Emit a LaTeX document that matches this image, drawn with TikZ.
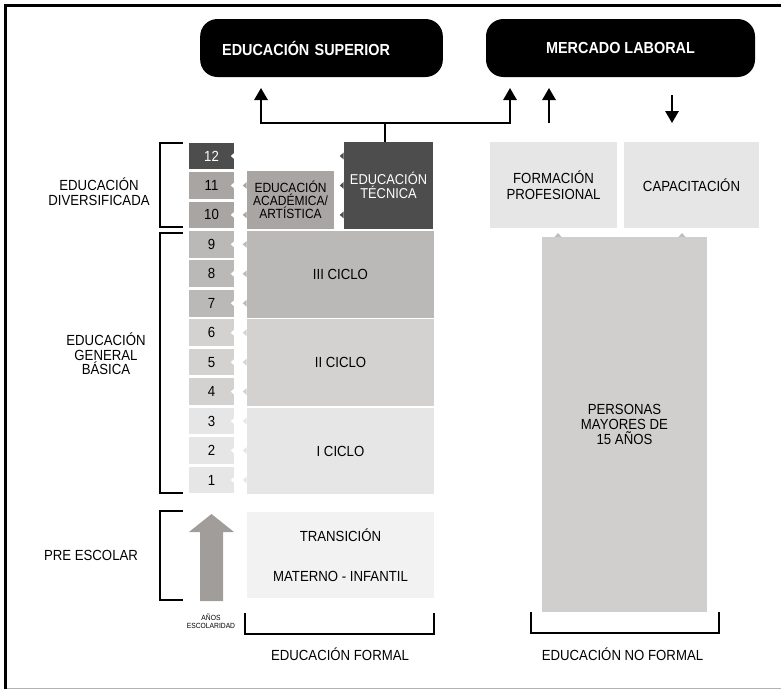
\documentclass[tikz,border=0pt]{standalone}
\usepackage{fontspec}
\setmainfont{Liberation Sans}[FakeStretch=0.9]
\usetikzlibrary{arrows.meta}
\definecolor{gdark}{HTML}{4D4D4D}
\definecolor{gwarm}{HTML}{A8A5A2}
\definecolor{gmid}{HTML}{BAB9B7}
\definecolor{glight}{HTML}{D3D2D0}
\definecolor{gpale}{HTML}{E6E6E6}
\definecolor{gfaint}{HTML}{F2F2F2}
\definecolor{gnf}{HTML}{D0CFCD}
\definecolor{garrow}{HTML}{A09D9A}
\tikzstyle{topbox} = [rectangle, rounded corners=13pt, fill=black, text=white, minimum
height=43.5pt, inner sep=0pt, font=\bfseries\fontsize{12}{14}\selectfont]
\tikzstyle{grade} = [rectangle, minimum width=33.75pt, minimum height=20pt, inner sep=0pt]
\tikzstyle{block} = [rectangle, inner sep=0pt, align=center]
\tikzstyle{lbl} = [align=center, font=\fontsize{11}{11}\selectfont]
\tikzstyle{arrow} = [line width=1.5pt,-{Triangle[width=10pt,length=9pt]}]
\tikzstyle{bracket} = [line width=2.2pt]

\begin{document}
\begin{tikzpicture}[x=0.75pt, y=-0.75pt, font=\fontsize{11}{11}\selectfont]
  \useasboundingbox (0,0) rectangle (781,689);
  % frame
  \draw[line width=2.25pt] (5.5,689) -- (5.5,5.5) -- (781,5.5);
  \draw[black!30, line width=0.75pt] (7,688) -- (781,688);

  \node (sup) [topbox, text width=149pt, inner xsep=16.5pt, align=left] at (321.5,48) {EDUCACIÓN SUPERIOR};
  \node (ml) [topbox, minimum width=201.75pt] at (620.5,48) {MERCADO LABORAL};

  % grades
  \foreach \g/\c/\t in {12/gdark/white, 11/gwarm/black, 10/gwarm/black, 9/gmid/black,
    8/gmid/black, 7/gmid/black, 6/glight/black, 5/glight/black, 4/glight/black,
    3/gpale/black, 2/gpale/black, 1/gpale/black} {
    \node (g\g) [grade, fill=\c, text=\t] at (211.5,{156+(12-\g)*29.45}) {\g};
    \fill[white] (g\g.east) ++(0.5,-3.5) -- ++(-4,3.5) -- ++(4,3.5) -- cycle;
  }

  \node (acad) [block, fill=gwarm, minimum width=65.25pt, minimum height=43.5pt,
    font=\fontsize{10}{9.75}\selectfont] at (290.5,200) {EDUCACIÓN\\ACADÉMICA/\\ARTÍSTICA};
  \node (tec) [block, fill=gdark, text=white, minimum width=66.75pt, minimum height=65.25pt,
    font=\fontsize{10.7}{10.5}\selectfont] at (388.5,185.5) {EDUCACIÓN\\TÉCNICA};
  \node (c3) [block, fill=gmid, minimum width=140.25pt, minimum height=65.25pt] at (340.5,274.5) {III CICLO};
  \node (c2) [block, fill=glight, minimum width=140.25pt, minimum height=65.25pt] at (340.5,362.5) {II CICLO};
  \node (c1) [block, fill=gpale, minimum width=140.25pt, minimum height=64.5pt] at (340.5,451) {I CICLO};
  \node (pre) [block, fill=gfaint, minimum width=140.25pt, minimum height=64.5pt] at (340.5,555)
    {TRANSICIÓN\\[19pt]MATERNO - INFANTIL};

  \foreach \g/\b/\c in {12/tec/gdark, 11/tec/gdark, 10/tec/gdark, 11/acad/gwarm, 10/acad/gwarm,
    9/c3/gmid, 8/c3/gmid, 7/c3/gmid, 6/c2/glight, 5/c2/glight, 4/c2/glight,
    3/c1/gpale, 2/c1/gpale, 1/c1/gpale}
    \fill[\c] (\b.west |- g\g.east) ++(0,-3.5) -- ++(-4,3.5) -- ++(4,3.5) -- cycle;

  \node (fp) [block, fill=gpale, minimum width=95.25pt, minimum height=64.5pt,
    font=\fontsize{11}{12}\selectfont] at (553.5,185) {FORMACIÓN\\PROFESIONAL};
  \node (cap) [block, fill=gpale, minimum width=101.25pt, minimum height=64.5pt] at (691.5,185) {CAPACITACIÓN};
  \node (pm) [block, fill=gnf, minimum width=123.75pt, minimum height=281.25pt,
    font=\fontsize{11}{11.25}\selectfont] at (624.5,424.5) {PERSONAS\\MAYORES DE\\15 AÑOS};
  \foreach \x in {558,682}
    \fill[gnf!92!black] (\x-3.5,237) -- (\x,233) -- (\x+3.5,237) -- cycle;

  % arrows
  \coordinate (split) at (385,123);
  \coordinate (sup-in) at (261,88);
  \coordinate (ml-in) at (510,88);
  \coordinate (fp-out) at (549,123);
  \coordinate (ml-in2) at (549,88);
  \coordinate (ml-out) at (672,95);
  \coordinate (cap-in) at (672,123);
  \draw[line width=1.5pt] (split |- tec.north) -- (split);
  \draw[arrow] (split) -| (sup-in);
  \draw[arrow] (split) -| (ml-in);
  \draw[arrow] (fp-out) -- (ml-in2);
  \draw[arrow] (ml-out) -- (cap-in);

  % brackets
  \draw[bracket] (183,143) -- (160,143) -- (160,227) -- (183,227);
  \draw[bracket] (183,233) -- (160,233) -- (160,493) -- (183,493);
  \draw[bracket] (183,511) -- (160,511) -- (160,600) -- (183,600);
  \draw[bracket] (245,613) -- (245,634) -- (434,634) -- (434,613);
  \draw[bracket] (531,612) -- (531,633) -- (719,633) -- (719,612);

  \fill[garrow] (200,601) -- (200,532) -- (189,532) -- (211.5,514) -- (234,532) -- (223,532)
    -- (223,601) -- cycle;
  \node (yrs) [align=center, font=\fontsize{5.6}{5.8}\selectfont] at (211,621) {AÑOS\\ESCOLARIDAD};

  \node (lbl-div) [lbl] at (99,192) {EDUCACIÓN\\DIVERSIFICADA};
  \node (lbl-egb) [lbl] at (106,354) {EDUCACIÓN\\GENERAL\\BÁSICA};
  \node (lbl-pre) [lbl] at (91,555) {PRE ESCOLAR};
  \node (lbl-f) [lbl] at (340,654) {EDUCACIÓN FORMAL};
  \node (lbl-nf) [lbl] at (622.5,654) {EDUCACIÓN NO FORMAL};
\end{tikzpicture}
\end{document}
